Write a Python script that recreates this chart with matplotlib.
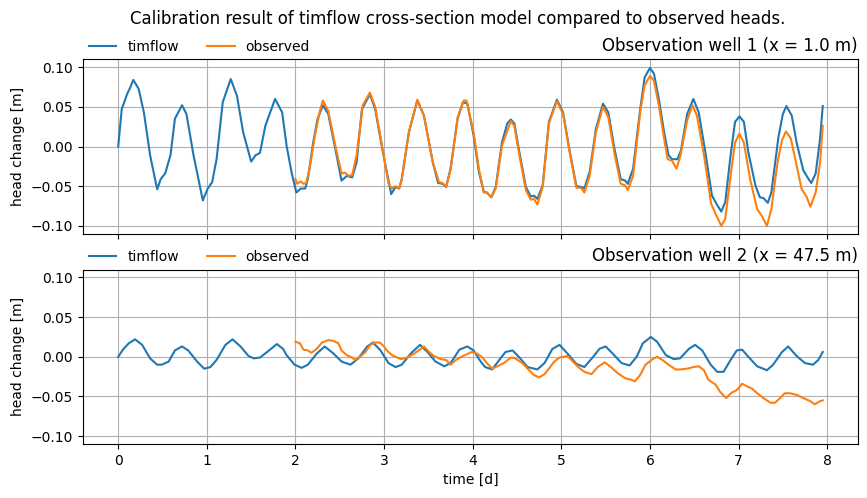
import numpy as np
import matplotlib
matplotlib.use("Agg")
import matplotlib.pyplot as plt

# well 1 (x = 1.0 m) - timflow model
t_model1 = [0, .04, .10, .13, .17, .23, .29, .36, .44, .48,
            .53, .59, .64, .72, .77, .85, .955, 1.01, 1.06, 1.11,
            1.18, 1.27, 1.34, 1.41, 1.50, 1.55, 1.60, 1.66, 1.77, 1.85,
            1.90, 1.955, 2.01, 2.06, 2.11, 2.14, 2.20, 2.25, 2.31, 2.37,
            2.45, 2.52, 2.58, 2.64, 2.69, 2.75, 2.84, 2.90, 2.98, 3.08,
            3.13, 3.17, 3.20, 3.28, 3.375, 3.45, 3.55, 3.61, 3.66, 3.70,
            3.75, 3.83, 3.89, 3.94, 4.01, 4.07, 4.125, 4.16, 4.21, 4.26,
            4.33, 4.39, 4.43, 4.47, 4.52, 4.60, 4.655, 4.69, 4.73, 4.79,
            4.86, 4.95, 5.02, 5.09, 5.17, 5.22, 5.26, 5.32, 5.39, 5.47,
            5.53, 5.60, 5.67, 5.72, 5.75, 5.81, 5.89, 5.94, 6.0, 6.045,
            6.10, 6.16, 6.21, 6.25, 6.31, 6.35, 6.42, 6.49, 6.55, 6.625,
            6.70, 6.76, 6.805, 6.85, 6.91, 6.96, 7.01, 7.06, 7.11, 7.19,
            7.24, 7.28, 7.33, 7.37, 7.45, 7.50, 7.54, 7.60, 7.655, 7.73,
            7.79, 7.82, 7.87, 7.92, 7.95]
h_model1 = [0, .047, .066, .073, .084, .073, .043, -.011, -.054, -.041,
            -.034, -.011, .035, .052, .041, -.011, -.068, -.053, -.045, -.016,
            .056, .085, .064, .018, -.019, -.011, -.008, .026, .060, .043,
            .001, -.032, -.058, -.053, -.053, -.041, .005, .035, .052, .041,
            -.003, -.043, -.037, -.039, -.020, .047, .066, .047, -.003, -.060,
            -.051, -.053, -.041, .018, .058, .039, -.020, -.046, -.047, -.051,
            -.028, .035, .056, .054, .014, -.032, -.057, -.058, -.064, -.051,
            .005, .029, .034, .029, -.003, -.051, -.063, -.062, -.066, -.049,
            .031, .059, .043, -.003, -.050, -.051, -.053, -.032, .022, .054,
            .043, -.003, -.041, -.043, -.047, -.028, .047, .087, .099, .092,
            .060, .018, -.011, -.016, -.016, -.005, .041, .060, .043, -.007,
            -.062, -.074, -.082, -.070, -.011, .031, .038, .031, -.007, -.049,
            -.064, -.065, -.071, -.058, .012, .041, .051, .039, .005, -.030,
            -.041, -.046, -.034, .010, .051]

# well 1 - observed
t_obs1 = [2.0, 2.02, 2.06, 2.09, 2.12, 2.16, 2.22, 2.28, 2.31, 2.37,
          2.45, 2.52, 2.56, 2.60, 2.64, 2.69, 2.76, 2.84, 2.90, 2.98,
          3.05, 3.09, 3.13, 3.17, 3.20, 3.28, 3.375, 3.45, 3.55, 3.62,
          3.66, 3.70, 3.75, 3.83, 3.90, 3.93, 4.01, 4.07, 4.125, 4.16,
          4.21, 4.26, 4.33, 4.43, 4.47, 4.52, 4.60, 4.655, 4.69, 4.73,
          4.79, 4.86, 4.95, 5.02, 5.09, 5.17, 5.22, 5.26, 5.32, 5.39,
          5.47, 5.53, 5.60, 5.67, 5.72, 5.75, 5.81, 5.89, 5.94, 6.0,
          6.045, 6.10, 6.16, 6.20, 6.25, 6.30, 6.345, 6.42, 6.48, 6.53,
          6.61, 6.69, 6.75, 6.805, 6.85, 6.91, 6.96, 7.01, 7.06, 7.13,
          7.21, 7.26, 7.32, 7.37, 7.44, 7.49, 7.535, 7.59, 7.655, 7.71,
          7.77, 7.81, 7.87, 7.92, 7.95]
h_obs1 = [-.041, -.047, -.044, -.047, -.046, -.028, .014, .047, .058, .045,
          .001, -.034, -.033, -.037, -.036, -.011, .052, .068, .050, -.001,
          -.047, -.053, -.050, -.053, -.041, .018, .059, .039, -.020, -.045,
          -.046, -.051, -.030, .037, .058, .058, .018, -.028, -.058, -.058,
          -.064, -.053, .001, .032, .026, -.007, -.055, -.067, -.066, -.073,
          -.051, .029, .057, .041, -.005, -.052, -.052, -.058, -.037, .018,
          .050, .037, -.009, -.047, -.049, -.055, -.037, .043, .077, .089,
          .083, .052, .010, -.016, -.018, -.028, -.011, .033, .052, .039,
          -.011, -.072, -.087, -.100, -.091, -.037, .005, .016, .005, -.041,
          -.079, -.087, -.100, -.079, -.020, .008, .019, .010, -.024, -.053,
          -.064, -.076, -.058, -.020, .026]

# well 2 (x = 47.5 m) - timflow model
t_model2 = [0, .06, .12, .19, .27, .36, .44, .49, .57, .64,
            .72, .79, .89, .97, 1.04, 1.11, 1.21, 1.29, 1.38, 1.47,
            1.53, 1.60, 1.68, 1.79, 1.86, 1.90, 1.99, 2.07, 2.14, 2.24,
            2.33, 2.43, 2.52, 2.62, 2.71, 2.81, 2.875, 2.96, 3.05, 3.13,
            3.20, 3.30, 3.405, 3.49, 3.58, 3.68, 3.75, 3.85, 3.94, 4.01,
            4.09, 4.14, 4.22, 4.30, 4.37, 4.45, 4.52, 4.62, 4.73, 4.81,
            4.90, 4.98, 5.07, 5.17, 5.26, 5.36, 5.43, 5.50, 5.58, 5.68,
            5.77, 5.85, 5.92, 6.01, 6.08, 6.18, 6.27, 6.34, 6.44, 6.51,
            6.59, 6.685, 6.76, 6.83, 6.91, 6.98, 7.04, 7.11, 7.21, 7.32,
            7.39, 7.49, 7.56, 7.655, 7.75, 7.84, 7.90, 7.95]
h_model2 = [0, .010, .017, .022, .015, -.002, -.010, -.010, -.006, .008,
            .013, .008, -.006, -.015, -.013, -.004, .015, .022, .013, .001,
            -.002, -.001, .006, .016, .010, .002, -.010, -.014, -.010, .004,
            .013, .004, -.006, -.010, -.002, .013, .018, .008, -.008, -.013,
            -.010, .004, .015, .006, -.006, -.012, -.008, .009, .013, .008,
            -.006, -.013, -.016, -.004, .006, .008, 0, -.013, -.016, -.008,
            .010, .015, .004, -.009, -.013, 0, .010, .013, .004, -.008,
            -.011, 0, .017, .025, .019, .002, -.003, -.002, .010, .015,
            .008, -.010, -.019, -.019, -.004, .008, .009, 0, -.012, -.017,
            -.010, .006, .013, .001, -.008, -.010, -.004, .006]

# well 2 - observed
t_obs2 = [2.0, 2.05, 2.09, 2.14, 2.18, 2.24, 2.30, 2.37, 2.43, 2.485,
          2.52, 2.58, 2.64, 2.67, 2.73, 2.79, 2.845, 2.90, 2.95, 3.0,
          3.03, 3.09, 3.15, 3.19, 3.26, 3.34, 3.39, 3.45, 3.51, 3.56,
          3.64, 3.70, 3.75, 3.81, 3.89, 3.99, 4.05, 4.11, 4.16, 4.22,
          4.28, 4.35, 4.43, 4.48, 4.56, 4.62, 4.69, 4.75, 4.81, 4.86,
          4.92, 4.98, 5.07, 5.13, 5.19, 5.26, 5.34, 5.41, 5.49, 5.56,
          5.64, 5.72, 5.79, 5.83, 5.89, 5.95, 6.03, 6.08, 6.14, 6.21,
          6.29, 6.34, 6.42, 6.49, 6.55, 6.61, 6.66, 6.74, 6.79, 6.86,
          6.925, 6.98, 7.04, 7.09, 7.15, 7.21, 7.28, 7.36, 7.41, 7.47,
          7.52, 7.58, 7.655, 7.73, 7.81, 7.86, 7.92, 7.95]
h_obs2 = [.019, .017, .009, .008, .005, .010, .018, .021, .020, .017,
          .008, .002, -.001, -.004, 0, .006, .015, .018, .018, .013,
          .008, .002, -.001, -.003, -.001, .004, .008, .013, .006, .001,
          -.003, -.004, -.010, -.004, .001, .006, .004, -.001, -.008, -.015,
          -.012, -.008, -.001, -.002, -.008, -.015, -.023, -.026, -.022, -.015,
          -.006, -.001, .001, -.006, -.013, -.019, -.022, -.013, -.007, -.013,
          -.021, -.027, -.029, -.031, -.023, -.010, -.003, 0, -.004, -.010,
          -.016, -.016, -.015, -.013, -.012, -.017, -.029, -.035, -.044, -.052,
          -.045, -.042, -.034, -.037, -.040, -.046, -.052, -.058, -.058, -.052,
          -.046, -.046, -.048, -.052, -.056, -.060, -.056, -.055]

wells = [
    ("Observation well 1 (x = 1.0 m)", t_model1, h_model1, t_obs1, h_obs1),
    ("Observation well 2 (x = 47.5 m)", t_model2, h_model2, t_obs2, h_obs2),
]

fig, axes = plt.subplots(2, 1, figsize=(8.67, 4.98), dpi=100, sharex=True, sharey=True)
fig.subplots_adjust(left=0.0957, right=0.9896, top=0.881, bottom=0.1084, hspace=0.205)

for ax, (title, tm, hm, to, ho) in zip(axes, wells):
    ax.plot(tm, hm, color="C0", lw=1.5, label="timflow")
    ax.plot(to, ho, color="C1", lw=1.5, label="observed")
    ax.set_title(title, loc="right", fontsize=12)
    ax.set_ylabel("head change [m]")
    ax.grid(True)
    ax.legend(loc=(0, 1), ncol=2, frameon=False)

axes[0].set_ylim(-0.11, 0.11)
axes[0].set_yticks([-0.10, -0.05, 0.0, 0.05, 0.10])
axes[1].set_xlabel("time [d]")

fig.suptitle("Calibration result of timflow cross-section model compared to observed heads.",
             x=0.528, y=0.98, fontsize=12)

fig.savefig("out.png", dpi=100)
